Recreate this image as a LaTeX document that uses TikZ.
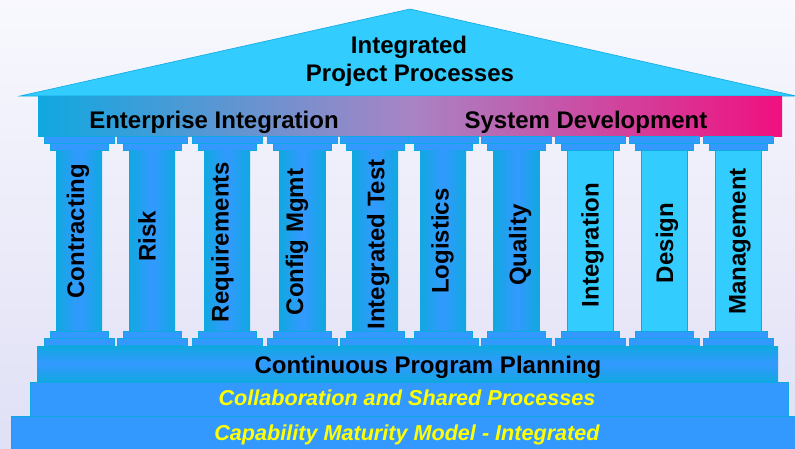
\documentclass[tikz,border=0pt]{standalone}
\usepackage{fontspec}
\setmainfont{Liberation Sans}
\definecolor{cyanA}{HTML}{33CCFF}
\definecolor{cyanB}{HTML}{10A8E0}
\definecolor{blueA}{HTML}{3399FF}
\definecolor{magA}{HTML}{F0107F}
\definecolor{purA}{HTML}{A884C4}
\definecolor{lavA}{HTML}{E0E0F6}
\definecolor{lavB}{HTML}{F8F8FE}
\definecolor{yelA}{HTML}{FFFF00}
\tikzset{
  blk/.style={fill=blueA, draw=cyanB, line width=0.5pt},
  txt/.style={font=\fontsize{24}{28}\selectfont\bfseries, text=black, inner sep=0pt},
  ytxt/.style={font=\fontsize{21.6}{26}\selectfont\bfseries\itshape, text=yelA, inner sep=0pt},
  coltxt/.style={txt, rotate=90, anchor=base},
  shafta/.style={left color=cyanB, right color=cyanB, middle color=blueA},
  shaftb/.style={fill=cyanA, draw=cyanB, line width=0.5pt}
}
\begin{document}
\begin{tikzpicture}[x=1pt,y=-1pt]
\useasboundingbox (0,0) rectangle (795,448);
% background
\shade[top color=lavB, bottom color=lavA] (0,0) rectangle (795,448);
% roof
\draw[fill=cyanA, draw=cyanB, line width=0.6pt] (20,96) -- (410,9) -- (796,96) -- cycle;
% architrave
\shade[left color=cyanB, right color=magA, middle color=purA] (38,96) rectangle (782,136);
% columns
\foreach \cx/\bx/\ty/\lab [count=\i] in {
  79/84/231/Contracting,
  152/155.7/236/Risk,
  227/228.7/242/Requirements,
  302.5/303/242/Config Mgmt,
  375/384.3/244.5/Integrated Test,
  443/448.7/241/Logistics,
  516.5/526.3/245/Quality,
  590/598.7/245/Integration,
  664/673/243/Design,
  738/745.5/241.5/Management}{
  \path[blk] ({\cx-35},136) rectangle ({\cx+35},143);
  \path[blk] ({\cx-29},143) rectangle ({\cx+29},150);
  \ifnum\i<8
    \shade[shafta] ({\cx-23},150) rectangle ({\cx+23},331);
  \else
    \path[shaftb] ({\cx-23},150) rectangle ({\cx+23},331);
  \fi
  \path[blk] ({\cx-29},331) rectangle ({\cx+29},338);
  \path[blk] ({\cx-35},338) rectangle ({\cx+35},345.5);
  \node[coltxt] (col\i) at (\bx,\ty) {\lab};
}
% platforms
\shade[top color=cyanB, bottom color=cyanB, middle color=blueA] (37,346) rectangle (778,382);
\path[blk] (30,382) rectangle (788,416);
\path[blk] (11,416) rectangle (800,449);
% texts
\node[txt, anchor=base] (roofA) at (409,53) {Integrated};
\node[txt, anchor=base] (roofB) at (410,81) {Project Processes};
\node[txt, anchor=base] (ent) at (214,128) {Enterprise Integration};
\node[txt, anchor=base] (sys) at (586,128.5) {System Development};
\node[txt, anchor=base] (cpp) at (428,373.5) {Continuous Program Planning};
\node[ytxt, anchor=base] (collab) at (407,405.5) {Collaboration and Shared Processes};
\node[ytxt, anchor=base] (cmmi) at (407,440.5) {Capability Maturity Model - Integrated};
\end{tikzpicture}
\end{document}
